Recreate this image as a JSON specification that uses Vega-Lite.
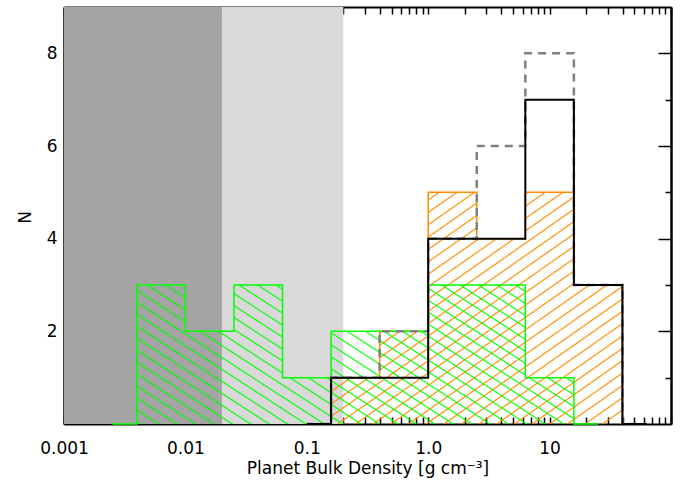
{
  "$schema": "https://vega.github.io/schema/vega-lite/v6.json",
  "width": 607,
  "height": 417,
  "autosize": {"type": "none"},
  "padding": {"left": 64, "top": 7, "right": 19, "bottom": 57},
  "background": "white",
  "config": {
    "view": {"stroke": null},
    "axis": {
      "grid": false,
      "zindex": 1,
      "labelFont": "DejaVu Sans",
      "labelFontSize": 17,
      "labelColor": "#000000",
      "titleFont": "DejaVu Sans",
      "titleFontSize": 17,
      "titleFontWeight": "normal",
      "titleColor": "#000000",
      "tickColor": "#000000",
      "tickWidth": 1.5,
      "domainColor": "#000000",
      "domainWidth": 2
    }
  },
  "datasets": {
    "bands": [
      {"lo": 0.001, "hi": 0.02, "shade": "dark"},
      {"lo": 0.02, "hi": 0.2, "shade": "light"}
    ],
    "hist": [
      {"series": "green", "edge": 0.002512, "n": 0},
      {"series": "green", "edge": 0.003981, "n": 3},
      {"series": "green", "edge": 0.01, "n": 2},
      {"series": "green", "edge": 0.02512, "n": 3},
      {"series": "green", "edge": 0.0631, "n": 1},
      {"series": "green", "edge": 0.1585, "n": 2},
      {"series": "green", "edge": 0.3981, "n": 2},
      {"series": "green", "edge": 1, "n": 3},
      {"series": "green", "edge": 2.512, "n": 3},
      {"series": "green", "edge": 6.31, "n": 1},
      {"series": "green", "edge": 15.85, "n": 0},
      {"series": "green", "edge": 25.12, "n": 0},
      {"series": "orange", "edge": 0.1, "n": 0},
      {"series": "orange", "edge": 0.1585, "n": 1},
      {"series": "orange", "edge": 0.3981, "n": 2},
      {"series": "orange", "edge": 1, "n": 5},
      {"series": "orange", "edge": 2.512, "n": 4},
      {"series": "orange", "edge": 6.31, "n": 5},
      {"series": "orange", "edge": 15.85, "n": 3},
      {"series": "orange", "edge": 39.81, "n": 0},
      {"series": "orange", "edge": 63.1, "n": 0},
      {"series": "black", "edge": 0.1, "n": 0},
      {"series": "black", "edge": 0.1585, "n": 1},
      {"series": "black", "edge": 0.3981, "n": 1},
      {"series": "black", "edge": 1, "n": 4},
      {"series": "black", "edge": 2.512, "n": 4},
      {"series": "black", "edge": 6.31, "n": 7},
      {"series": "black", "edge": 15.85, "n": 3},
      {"series": "black", "edge": 39.81, "n": 0},
      {"series": "black", "edge": 63.1, "n": 0},
      {"series": "gray", "edge": 0.1, "n": 0},
      {"series": "gray", "edge": 0.1585, "n": 1},
      {"series": "gray", "edge": 0.3981, "n": 2},
      {"series": "gray", "edge": 1, "n": 4},
      {"series": "gray", "edge": 2.512, "n": 6},
      {"series": "gray", "edge": 6.31, "n": 8},
      {"series": "gray", "edge": 15.85, "n": 3},
      {"series": "gray", "edge": 39.81, "n": 0},
      {"series": "gray", "edge": 63.1, "n": 0}
    ]
  },
  "resolve": {"axis": {"x": "independent", "y": "independent"}},
  "layer": [
    {
      "data": {"name": "bands"},
      "mark": {"type": "rect"},
      "encoding": {
        "x": {"field": "lo", "type": "quantitative", "scale": {"type": "log", "domain": [0.001, 100], "nice": false}, "axis": null},
        "x2": {"field": "hi"},
        "color": {"field": "shade", "type": "nominal", "scale": {"domain": ["dark", "light"], "range": ["#a4a4a4", "#d9d9d9"]}, "legend": null}
      }
    },
    {
      "data": {"name": "hist"},
      "transform": [{"filter": "datum.series == 'orange'"}],
      "mark": {
        "type": "area", "interpolate": "step-after", "opacity": 1, "strokeWidth": 0,
        "fill": {
          "gradient": "linear", "x1": 0, "y1": 0, "x2": 1.0134, "y2": 0.9864,
          "stops": [
            {"offset":0.0102,"color":"rgba(255,140,0,0)"},{"offset":0.0132,"color":"#ff8c00"},{"offset":0.0162,"color":"rgba(255,140,0,0)"},
            {"offset":0.0365,"color":"rgba(255,140,0,0)"},{"offset":0.0395,"color":"#ff8c00"},{"offset":0.0425,"color":"rgba(255,140,0,0)"},
            {"offset":0.0628,"color":"rgba(255,140,0,0)"},{"offset":0.0658,"color":"#ff8c00"},{"offset":0.0688,"color":"rgba(255,140,0,0)"},
            {"offset":0.0891,"color":"rgba(255,140,0,0)"},{"offset":0.0921,"color":"#ff8c00"},{"offset":0.0951,"color":"rgba(255,140,0,0)"},
            {"offset":0.1154,"color":"rgba(255,140,0,0)"},{"offset":0.1184,"color":"#ff8c00"},{"offset":0.1214,"color":"rgba(255,140,0,0)"},
            {"offset":0.1417,"color":"rgba(255,140,0,0)"},{"offset":0.1447,"color":"#ff8c00"},{"offset":0.1477,"color":"rgba(255,140,0,0)"},
            {"offset":0.1681,"color":"rgba(255,140,0,0)"},{"offset":0.1711,"color":"#ff8c00"},{"offset":0.1741,"color":"rgba(255,140,0,0)"},
            {"offset":0.1944,"color":"rgba(255,140,0,0)"},{"offset":0.1974,"color":"#ff8c00"},{"offset":0.2004,"color":"rgba(255,140,0,0)"},
            {"offset":0.2207,"color":"rgba(255,140,0,0)"},{"offset":0.2237,"color":"#ff8c00"},{"offset":0.2267,"color":"rgba(255,140,0,0)"},
            {"offset":0.2470,"color":"rgba(255,140,0,0)"},{"offset":0.2500,"color":"#ff8c00"},{"offset":0.2530,"color":"rgba(255,140,0,0)"},
            {"offset":0.2733,"color":"rgba(255,140,0,0)"},{"offset":0.2763,"color":"#ff8c00"},{"offset":0.2793,"color":"rgba(255,140,0,0)"},
            {"offset":0.2996,"color":"rgba(255,140,0,0)"},{"offset":0.3026,"color":"#ff8c00"},{"offset":0.3056,"color":"rgba(255,140,0,0)"},
            {"offset":0.3259,"color":"rgba(255,140,0,0)"},{"offset":0.3289,"color":"#ff8c00"},{"offset":0.3319,"color":"rgba(255,140,0,0)"},
            {"offset":0.3523,"color":"rgba(255,140,0,0)"},{"offset":0.3553,"color":"#ff8c00"},{"offset":0.3583,"color":"rgba(255,140,0,0)"},
            {"offset":0.3786,"color":"rgba(255,140,0,0)"},{"offset":0.3816,"color":"#ff8c00"},{"offset":0.3846,"color":"rgba(255,140,0,0)"},
            {"offset":0.4049,"color":"rgba(255,140,0,0)"},{"offset":0.4079,"color":"#ff8c00"},{"offset":0.4109,"color":"rgba(255,140,0,0)"},
            {"offset":0.4312,"color":"rgba(255,140,0,0)"},{"offset":0.4342,"color":"#ff8c00"},{"offset":0.4372,"color":"rgba(255,140,0,0)"},
            {"offset":0.4575,"color":"rgba(255,140,0,0)"},{"offset":0.4605,"color":"#ff8c00"},{"offset":0.4635,"color":"rgba(255,140,0,0)"},
            {"offset":0.4838,"color":"rgba(255,140,0,0)"},{"offset":0.4868,"color":"#ff8c00"},{"offset":0.4898,"color":"rgba(255,140,0,0)"},
            {"offset":0.5102,"color":"rgba(255,140,0,0)"},{"offset":0.5132,"color":"#ff8c00"},{"offset":0.5162,"color":"rgba(255,140,0,0)"},
            {"offset":0.5365,"color":"rgba(255,140,0,0)"},{"offset":0.5395,"color":"#ff8c00"},{"offset":0.5425,"color":"rgba(255,140,0,0)"},
            {"offset":0.5628,"color":"rgba(255,140,0,0)"},{"offset":0.5658,"color":"#ff8c00"},{"offset":0.5688,"color":"rgba(255,140,0,0)"},
            {"offset":0.5891,"color":"rgba(255,140,0,0)"},{"offset":0.5921,"color":"#ff8c00"},{"offset":0.5951,"color":"rgba(255,140,0,0)"},
            {"offset":0.6154,"color":"rgba(255,140,0,0)"},{"offset":0.6184,"color":"#ff8c00"},{"offset":0.6214,"color":"rgba(255,140,0,0)"},
            {"offset":0.6417,"color":"rgba(255,140,0,0)"},{"offset":0.6447,"color":"#ff8c00"},{"offset":0.6477,"color":"rgba(255,140,0,0)"},
            {"offset":0.6681,"color":"rgba(255,140,0,0)"},{"offset":0.6711,"color":"#ff8c00"},{"offset":0.6741,"color":"rgba(255,140,0,0)"},
            {"offset":0.6944,"color":"rgba(255,140,0,0)"},{"offset":0.6974,"color":"#ff8c00"},{"offset":0.7004,"color":"rgba(255,140,0,0)"},
            {"offset":0.7207,"color":"rgba(255,140,0,0)"},{"offset":0.7237,"color":"#ff8c00"},{"offset":0.7267,"color":"rgba(255,140,0,0)"},
            {"offset":0.7470,"color":"rgba(255,140,0,0)"},{"offset":0.7500,"color":"#ff8c00"},{"offset":0.7530,"color":"rgba(255,140,0,0)"},
            {"offset":0.7733,"color":"rgba(255,140,0,0)"},{"offset":0.7763,"color":"#ff8c00"},{"offset":0.7793,"color":"rgba(255,140,0,0)"},
            {"offset":0.7996,"color":"rgba(255,140,0,0)"},{"offset":0.8026,"color":"#ff8c00"},{"offset":0.8056,"color":"rgba(255,140,0,0)"},
            {"offset":0.8259,"color":"rgba(255,140,0,0)"},{"offset":0.8289,"color":"#ff8c00"},{"offset":0.8319,"color":"rgba(255,140,0,0)"},
            {"offset":0.8523,"color":"rgba(255,140,0,0)"},{"offset":0.8553,"color":"#ff8c00"},{"offset":0.8583,"color":"rgba(255,140,0,0)"},
            {"offset":0.8786,"color":"rgba(255,140,0,0)"},{"offset":0.8816,"color":"#ff8c00"},{"offset":0.8846,"color":"rgba(255,140,0,0)"},
            {"offset":0.9049,"color":"rgba(255,140,0,0)"},{"offset":0.9079,"color":"#ff8c00"},{"offset":0.9109,"color":"rgba(255,140,0,0)"},
            {"offset":0.9312,"color":"rgba(255,140,0,0)"},{"offset":0.9342,"color":"#ff8c00"},{"offset":0.9372,"color":"rgba(255,140,0,0)"},
            {"offset":0.9575,"color":"rgba(255,140,0,0)"},{"offset":0.9605,"color":"#ff8c00"},{"offset":0.9635,"color":"rgba(255,140,0,0)"},
            {"offset":0.9838,"color":"rgba(255,140,0,0)"},{"offset":0.9868,"color":"#ff8c00"},{"offset":0.9898,"color":"rgba(255,140,0,0)"}
          ]
        }
      },
      "encoding": {
        "x": {
          "field": "edge", "type": "quantitative",
          "scale": {"type": "log", "domain": [0.001, 100], "nice": false},
          "axis": {
            "orient": "bottom",
            "values": [0.001,0.002,0.003,0.004,0.005,0.006,0.007,0.008,0.009,0.01,0.02,0.03,0.04,0.05,0.06,0.07,0.08,0.09,0.1,0.2,0.3,0.4,0.5,0.6,0.7,0.8,0.9,1,2,3,4,5,6,7,8,9,10,20,30,40,50,60,70,80,90,100],
            "labelExpr": "datum.value == 0.001 ? '0.001' : datum.value == 0.01 ? '0.01' : datum.value == 0.1 ? '0.1' : datum.value == 1 ? '1.0' : datum.value == 10 ? '10' : ''",
            "tickSize": -7,
            "labelPadding": 23,
            "labelFlush": false,
            "labelOverlap": false,
            "labelBound": false,
            "title": "Planet Bulk Density [g cm⁻³]",
            "titleY": 49,
            "titleBaseline": "alphabetic"
          }
        },
        "y": {
          "field": "n", "type": "quantitative",
          "scale": {"domain": [0, 9], "nice": false},
          "stack": null,
          "axis": {
            "orient": "left",
            "values": [2, 4, 6, 8],
            "format": "d",
            "tickSize": -13,
            "labelPadding": 20,
            "title": "N",
            "titleX": -34,
            "titleY": 210,
            "titleAngle": 270,
            "titleAlign": "center",
            "titleBaseline": "alphabetic"
          }
        }
      }
    },
    {
      "data": {"name": "hist"},
      "transform": [{"filter": "datum.series == 'green'"}],
      "mark": {
        "type": "area", "interpolate": "step-after", "opacity": 1, "strokeWidth": 0,
        "fill": {
          "gradient": "linear", "x1": 0, "y1": 1, "x2": 1.2064, "y2": 0.4682,
          "stops": [
            {"offset":0.0102,"color":"rgba(0,255,0,0)"},{"offset":0.0132,"color":"#00ff00"},{"offset":0.0162,"color":"rgba(0,255,0,0)"},
            {"offset":0.0365,"color":"rgba(0,255,0,0)"},{"offset":0.0395,"color":"#00ff00"},{"offset":0.0425,"color":"rgba(0,255,0,0)"},
            {"offset":0.0628,"color":"rgba(0,255,0,0)"},{"offset":0.0658,"color":"#00ff00"},{"offset":0.0688,"color":"rgba(0,255,0,0)"},
            {"offset":0.0891,"color":"rgba(0,255,0,0)"},{"offset":0.0921,"color":"#00ff00"},{"offset":0.0951,"color":"rgba(0,255,0,0)"},
            {"offset":0.1154,"color":"rgba(0,255,0,0)"},{"offset":0.1184,"color":"#00ff00"},{"offset":0.1214,"color":"rgba(0,255,0,0)"},
            {"offset":0.1417,"color":"rgba(0,255,0,0)"},{"offset":0.1447,"color":"#00ff00"},{"offset":0.1477,"color":"rgba(0,255,0,0)"},
            {"offset":0.1681,"color":"rgba(0,255,0,0)"},{"offset":0.1711,"color":"#00ff00"},{"offset":0.1741,"color":"rgba(0,255,0,0)"},
            {"offset":0.1944,"color":"rgba(0,255,0,0)"},{"offset":0.1974,"color":"#00ff00"},{"offset":0.2004,"color":"rgba(0,255,0,0)"},
            {"offset":0.2207,"color":"rgba(0,255,0,0)"},{"offset":0.2237,"color":"#00ff00"},{"offset":0.2267,"color":"rgba(0,255,0,0)"},
            {"offset":0.2470,"color":"rgba(0,255,0,0)"},{"offset":0.2500,"color":"#00ff00"},{"offset":0.2530,"color":"rgba(0,255,0,0)"},
            {"offset":0.2733,"color":"rgba(0,255,0,0)"},{"offset":0.2763,"color":"#00ff00"},{"offset":0.2793,"color":"rgba(0,255,0,0)"},
            {"offset":0.2996,"color":"rgba(0,255,0,0)"},{"offset":0.3026,"color":"#00ff00"},{"offset":0.3056,"color":"rgba(0,255,0,0)"},
            {"offset":0.3259,"color":"rgba(0,255,0,0)"},{"offset":0.3289,"color":"#00ff00"},{"offset":0.3319,"color":"rgba(0,255,0,0)"},
            {"offset":0.3523,"color":"rgba(0,255,0,0)"},{"offset":0.3553,"color":"#00ff00"},{"offset":0.3583,"color":"rgba(0,255,0,0)"},
            {"offset":0.3786,"color":"rgba(0,255,0,0)"},{"offset":0.3816,"color":"#00ff00"},{"offset":0.3846,"color":"rgba(0,255,0,0)"},
            {"offset":0.4049,"color":"rgba(0,255,0,0)"},{"offset":0.4079,"color":"#00ff00"},{"offset":0.4109,"color":"rgba(0,255,0,0)"},
            {"offset":0.4312,"color":"rgba(0,255,0,0)"},{"offset":0.4342,"color":"#00ff00"},{"offset":0.4372,"color":"rgba(0,255,0,0)"},
            {"offset":0.4575,"color":"rgba(0,255,0,0)"},{"offset":0.4605,"color":"#00ff00"},{"offset":0.4635,"color":"rgba(0,255,0,0)"},
            {"offset":0.4838,"color":"rgba(0,255,0,0)"},{"offset":0.4868,"color":"#00ff00"},{"offset":0.4898,"color":"rgba(0,255,0,0)"},
            {"offset":0.5102,"color":"rgba(0,255,0,0)"},{"offset":0.5132,"color":"#00ff00"},{"offset":0.5162,"color":"rgba(0,255,0,0)"},
            {"offset":0.5365,"color":"rgba(0,255,0,0)"},{"offset":0.5395,"color":"#00ff00"},{"offset":0.5425,"color":"rgba(0,255,0,0)"},
            {"offset":0.5628,"color":"rgba(0,255,0,0)"},{"offset":0.5658,"color":"#00ff00"},{"offset":0.5688,"color":"rgba(0,255,0,0)"},
            {"offset":0.5891,"color":"rgba(0,255,0,0)"},{"offset":0.5921,"color":"#00ff00"},{"offset":0.5951,"color":"rgba(0,255,0,0)"},
            {"offset":0.6154,"color":"rgba(0,255,0,0)"},{"offset":0.6184,"color":"#00ff00"},{"offset":0.6214,"color":"rgba(0,255,0,0)"},
            {"offset":0.6417,"color":"rgba(0,255,0,0)"},{"offset":0.6447,"color":"#00ff00"},{"offset":0.6477,"color":"rgba(0,255,0,0)"},
            {"offset":0.6681,"color":"rgba(0,255,0,0)"},{"offset":0.6711,"color":"#00ff00"},{"offset":0.6741,"color":"rgba(0,255,0,0)"},
            {"offset":0.6944,"color":"rgba(0,255,0,0)"},{"offset":0.6974,"color":"#00ff00"},{"offset":0.7004,"color":"rgba(0,255,0,0)"},
            {"offset":0.7207,"color":"rgba(0,255,0,0)"},{"offset":0.7237,"color":"#00ff00"},{"offset":0.7267,"color":"rgba(0,255,0,0)"},
            {"offset":0.7470,"color":"rgba(0,255,0,0)"},{"offset":0.7500,"color":"#00ff00"},{"offset":0.7530,"color":"rgba(0,255,0,0)"},
            {"offset":0.7733,"color":"rgba(0,255,0,0)"},{"offset":0.7763,"color":"#00ff00"},{"offset":0.7793,"color":"rgba(0,255,0,0)"},
            {"offset":0.7996,"color":"rgba(0,255,0,0)"},{"offset":0.8026,"color":"#00ff00"},{"offset":0.8056,"color":"rgba(0,255,0,0)"},
            {"offset":0.8259,"color":"rgba(0,255,0,0)"},{"offset":0.8289,"color":"#00ff00"},{"offset":0.8319,"color":"rgba(0,255,0,0)"},
            {"offset":0.8523,"color":"rgba(0,255,0,0)"},{"offset":0.8553,"color":"#00ff00"},{"offset":0.8583,"color":"rgba(0,255,0,0)"},
            {"offset":0.8786,"color":"rgba(0,255,0,0)"},{"offset":0.8816,"color":"#00ff00"},{"offset":0.8846,"color":"rgba(0,255,0,0)"},
            {"offset":0.9049,"color":"rgba(0,255,0,0)"},{"offset":0.9079,"color":"#00ff00"},{"offset":0.9109,"color":"rgba(0,255,0,0)"},
            {"offset":0.9312,"color":"rgba(0,255,0,0)"},{"offset":0.9342,"color":"#00ff00"},{"offset":0.9372,"color":"rgba(0,255,0,0)"},
            {"offset":0.9575,"color":"rgba(0,255,0,0)"},{"offset":0.9605,"color":"#00ff00"},{"offset":0.9635,"color":"rgba(0,255,0,0)"},
            {"offset":0.9838,"color":"rgba(0,255,0,0)"},{"offset":0.9868,"color":"#00ff00"},{"offset":0.9898,"color":"rgba(0,255,0,0)"}
          ]
        }
      },
      "encoding": {
        "x": {
          "field": "edge", "type": "quantitative",
          "scale": {"type": "log", "domain": [0.001, 100], "nice": false},
          "axis": {
            "orient": "top",
            "values": [0.001,0.002,0.003,0.004,0.005,0.006,0.007,0.008,0.009,0.01,0.02,0.03,0.04,0.05,0.06,0.07,0.08,0.09,0.1,0.2,0.3,0.4,0.5,0.6,0.7,0.8,0.9,1,2,3,4,5,6,7,8,9,10,20,30,40,50,60,70,80,90,100],
            "labels": false,
            "tickSize": -7,
            "title": null
          }
        },
        "y": {
          "field": "n", "type": "quantitative",
          "scale": {"domain": [0, 9], "nice": false},
          "stack": null,
          "axis": {"orient": "left", "values": [1, 3, 5, 7], "labels": false, "tickSize": -6, "title": null}
        }
      }
    },
    {
      "data": {"name": "hist"},
      "transform": [{"filter": "datum.series == 'orange'"}],
      "mark": {"type": "line", "interpolate": "step-after", "color": "#ff8c00", "strokeWidth": 1.5},
      "encoding": {
        "x": {"field": "edge", "type": "quantitative", "scale": {"type": "log", "domain": [0.001, 100], "nice": false}, "axis": null},
        "y": {
          "field": "n", "type": "quantitative", "scale": {"domain": [0, 9], "nice": false},
          "axis": {"orient": "right", "values": [2, 4, 6, 8], "labels": false, "tickSize": -13, "title": null}
        }
      }
    },
    {
      "data": {"name": "hist"},
      "transform": [{"filter": "datum.series == 'green'"}],
      "mark": {"type": "line", "interpolate": "step-after", "color": "#00ff00", "strokeWidth": 1.5},
      "encoding": {
        "x": {"field": "edge", "type": "quantitative", "scale": {"type": "log", "domain": [0.001, 100], "nice": false}, "axis": null},
        "y": {
          "field": "n", "type": "quantitative", "scale": {"domain": [0, 9], "nice": false},
          "axis": {"orient": "right", "values": [1, 3, 5, 7], "labels": false, "tickSize": -6, "title": null}
        }
      }
    },
    {
      "data": {"name": "hist"},
      "transform": [{"filter": "datum.series == 'gray'"}],
      "mark": {"type": "line", "interpolate": "step-after", "color": "#808080", "strokeWidth": 2.5, "strokeDash": [8, 6]},
      "encoding": {
        "x": {"field": "edge", "type": "quantitative", "scale": {"type": "log", "domain": [0.001, 100], "nice": false}, "axis": null},
        "y": {"field": "n", "type": "quantitative", "scale": {"domain": [0, 9], "nice": false}, "axis": null}
      }
    },
    {
      "data": {"name": "hist"},
      "transform": [{"filter": "datum.series == 'black'"}],
      "mark": {"type": "line", "interpolate": "step-after", "color": "#000000", "strokeWidth": 2},
      "encoding": {
        "x": {"field": "edge", "type": "quantitative", "scale": {"type": "log", "domain": [0.001, 100], "nice": false}, "axis": null},
        "y": {"field": "n", "type": "quantitative", "scale": {"domain": [0, 9], "nice": false}, "axis": null}
      }
    }
  ]
}
